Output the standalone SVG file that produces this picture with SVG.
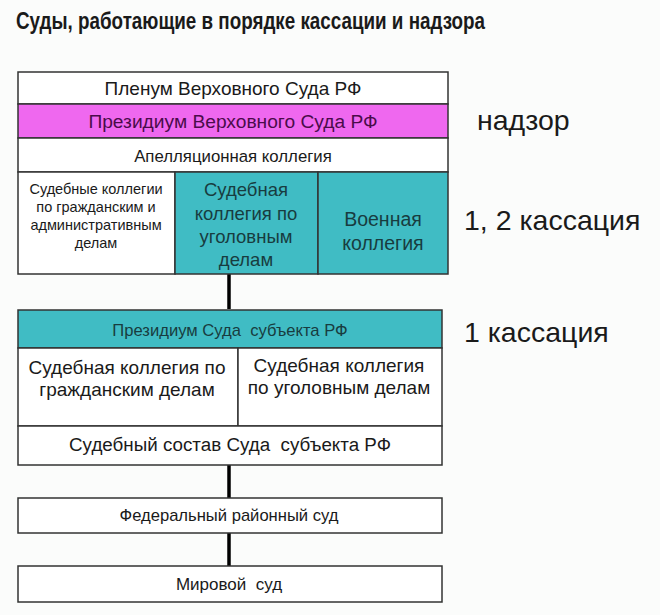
<svg xmlns="http://www.w3.org/2000/svg" width="660" height="615" viewBox="0 0 660 615">
<style>
.bx{stroke:#333;stroke-width:1.5}
.w{fill:#fff}
.t{fill:#40bcc4}
.m{fill:#ef68ef}
text{font-family:"Liberation Sans",Arial,sans-serif;fill:#1a1a1a;text-anchor:middle}
.dk{fill:#183c40}
.lbl{text-anchor:start;font-size:28.5px}
.con{stroke:#000;stroke-width:3.5;fill:none}
</style>
<rect width="660" height="615" fill="#fbfcfb"/>
<text x="16" y="29" style="text-anchor:start;font-weight:bold;font-size:23px" textLength="469" lengthAdjust="spacingAndGlyphs">Суды, работающие в порядке кассации и надзора</text>

<g id="connectors">
<line class="con" x1="229" y1="274" x2="229" y2="309"/>
<line class="con" x1="229" y1="465" x2="229" y2="498"/>
<line class="con" x1="229" y1="533" x2="229" y2="566"/>
</g>

<g id="plenum">
<rect class="bx w" x="18" y="72" width="430" height="32"/>
<text x="233" y="95" font-size="19">Пленум Верховного Суда РФ</text>
</g>
<g id="presidium-vs">
<rect class="bx m" x="18" y="104" width="430" height="34"/>
<text x="233" y="128" font-size="19.2" style="fill:#4a0c4a">Президиум Верховного Суда РФ</text>
</g>
<g id="appeal">
<rect class="bx w" x="18" y="138" width="430" height="34"/>
<text x="233" y="162" font-size="16.8">Апелляционная коллегия</text>
</g>
<g id="civil-admin">
<rect class="bx w" x="18" y="172" width="157" height="102"/>
<text font-size="14.5"><tspan x="96" y="194">Судебные коллегии</tspan><tspan x="96" y="212">по гражданским и</tspan><tspan x="96" y="230">административным</tspan><tspan x="96" y="248">делам</tspan></text>
</g>
<g id="criminal-vs">
<rect class="bx t" x="175" y="172" width="143" height="102"/>
<text font-size="18.5" class="dk"><tspan x="246" y="196">Судебная</tspan><tspan x="246" y="220">коллегия по</tspan><tspan x="246" y="243">уголовным</tspan><tspan x="246" y="266">делам</tspan></text>
</g>
<g id="military">
<rect class="bx t" x="318" y="172" width="130" height="102"/>
<text font-size="19.5" class="dk"><tspan x="383" y="226">Военная</tspan><tspan x="383" y="250">коллегия</tspan></text>
</g>

<g id="presidium-subject">
<rect class="bx t" x="18" y="310" width="424" height="38"/>
<text x="230" y="336" font-size="16.6" class="dk">Президиум Суда&#160; субъекта РФ</text>
</g>
<g id="civil-subject">
<rect class="bx w" x="18" y="348" width="220" height="78"/>
<text font-size="19"><tspan x="127" y="374">Судебная коллегия по</tspan><tspan x="127" y="396">гражданским делам</tspan></text>
</g>
<g id="criminal-subject">
<rect class="bx w" x="238" y="348" width="204" height="78"/>
<text font-size="19"><tspan x="339" y="372">Судебная коллегия</tspan><tspan x="339" y="394">по уголовным делам</tspan></text>
</g>
<g id="sostav">
<rect class="bx w" x="18" y="426" width="424" height="39"/>
<text x="230" y="451" font-size="18.8">Судебный состав Суда&#160; субъекта РФ</text>
</g>
<g id="federal">
<rect class="bx w" x="18" y="498" width="424" height="35"/>
<text x="229" y="521" font-size="16.6">Федеральный районный суд</text>
</g>
<g id="mirovoy">
<rect class="bx w" x="18" y="566" width="424" height="36"/>
<text x="229" y="590" font-size="17">Мировой&#160; суд</text>
</g>

<text class="lbl" x="477" y="130" font-size="29.5">надзор</text>
<text class="lbl" x="464" y="230">1, 2 кассация</text>
<text class="lbl" x="464" y="342">1 кассация</text>
</svg>
